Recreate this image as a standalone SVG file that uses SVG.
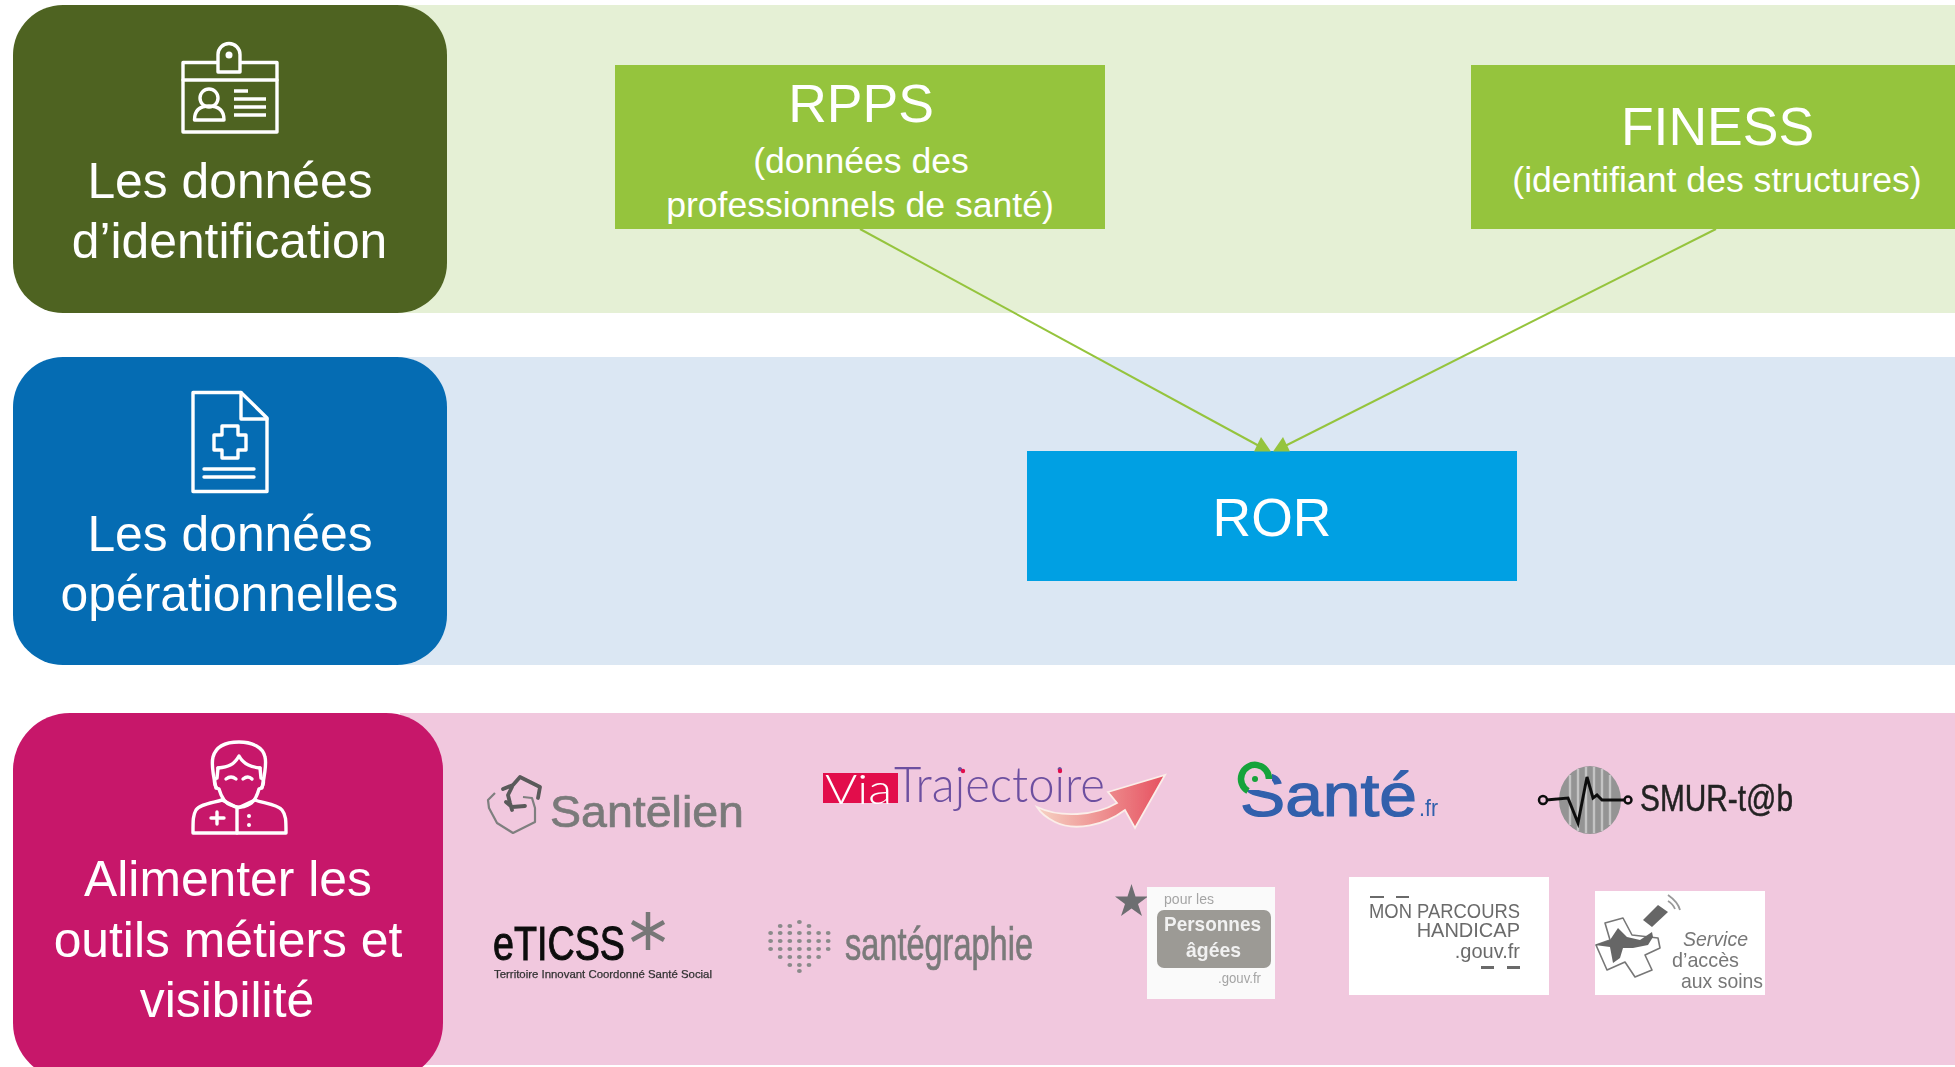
<svg xmlns="http://www.w3.org/2000/svg" width="1955" height="1067" viewBox="0 0 1955 1067">
<style>
text{font-family:"Liberation Sans",Arial,sans-serif}
.h{font-size:49.800px;fill:#fff;text-anchor:middle}
.b{fill:#fff;text-anchor:middle}
.big{font-size:53.500px}
.sm{font-size:35.600px}
.ic{fill:none;stroke:#fff;stroke-width:3.400;stroke-linejoin:round;stroke-linecap:round}
.lnk{fill:none;stroke:#95c43d;stroke-width:2}
.ah{fill:#95c43d}
.g{fill:#7a7a7a;stroke:#7a7a7a;stroke-width:.7}
.log{filter:url(#soft)}
.light{font-family:Lato,"Open Sans",sans-serif;font-weight:300}
</style>
<defs>
<filter id="soft" x="-5%" y="-5%" width="110%" height="110%"><feGaussianBlur stdDeviation="0.6"/></filter>
<linearGradient id="arr" x1="0" y1="0" x2="1" y2="0"><stop offset="0" stop-color="#f6d3c4"/><stop offset="1" stop-color="#e6505f"/></linearGradient>
</defs>
<rect width="1955" height="1067" fill="#fff"/>
<g id="bands">
<rect x="400" y="5" width="1555" height="308" fill="#e5f0d5"/>
<rect x="400" y="357" width="1555" height="308" fill="#dbe7f3"/>
<rect x="400" y="713" width="1555" height="352" fill="#f1c8de"/>
</g>
<g id="n-identification">
<rect x="13" y="5" width="434" height="308" rx="50" fill="#4e6321"/>
<g class="ic">
<rect x="183" y="62.500" width="94" height="69.500"/>
<path d="M183 80H277"/>
<path d="M218 72V54.500A11 11 0 0 1 240 54.500V72Z" fill="#4e6321"/>
<path d="M194.500 120C194.500 109 201 106 209 106C217 106 224 109 224 120Z"/>
<circle cx="209" cy="98" r="9"/>
<path d="M234 91H248M234 99H266M234 107H266M234 115H266" stroke-linecap="butt"/>
</g>
<circle cx="229" cy="55" r="3.500" fill="#fff"/>
<text class="h" x="230" y="198">Les données</text>
<text class="h" x="229.500" y="258">d’identification</text>
</g>
<g id="n-operationnelles">
<rect x="13" y="357" width="434" height="308" rx="50" fill="#056cb3"/>
<g class="ic">
<path d="M193 392.500H241L267 418V491.500H193Z"/>
<path d="M241 392.500V419H267"/>
<path d="M222 426H238V435H246V450H238V458H222V450H214V435H222Z"/>
<path d="M204 469H254M204 477H254"/>
</g>
<text class="h" x="230" y="551">Les données</text>
<text class="h" x="229.500" y="611">opérationnelles</text>
</g>
<g id="n-outils">
<rect x="13" y="713" width="430" height="367" rx="57" fill="#c7176a"/>
<g class="ic">
<path d="M216 788C213 775 211 765 213 757C216 746 226 742 239 742C252 742 263 747 265 757C267 765 264 778 262 788"/>
<path d="M218 768C228 767 234 765 239 756C244 765 252 767 260 768"/>
<path d="M218 768L217 778C213 778 214 788 219 789C221 796 224 803 231 805C236 808 243 808 248 805C254 803 257 796 259 789C264 788 265 778 261 778L260 768"/>
<path d="M226 779Q231 775 236 779M243 779Q248 775 252 779"/>
<path d="M222 800C212 803 200 804 196 810C193 815 193 820 193 833H286C286 820 286 815 282 810C277 804 262 803 255 800"/>
<path d="M222 800L238 808L255 800M237 808V833"/>
<path d="M217 812V824M211 818H224"/>
</g>
<circle cx="249" cy="816" r="2" fill="#fff"/><circle cx="249" cy="825" r="2" fill="#fff"/>
<text class="h" x="228" y="896">Alimenter les</text>
<text class="h" x="228" y="957">outils métiers et</text>
<text class="h" x="227" y="1017">visibilité</text>
</g>
<g id="connectors">
<path class="lnk" d="M860 229L1261 447"/>
<path class="lnk" d="M1716 229L1283 447"/>
</g>
<g id="n-rpps">
<rect x="615" y="65" width="490" height="164" fill="#95c43d"/>
<text class="b big" x="861" y="122">RPPS</text>
<text class="b sm" x="861" y="172.500">(données des</text>
<text class="b sm" x="860" y="217">professionnels de santé)</text>
</g>
<g id="n-finess">
<rect x="1471" y="65" width="484" height="164" fill="#95c43d"/>
<text class="b big" x="1717.500" y="145">FINESS</text>
<text class="b sm" x="1717" y="191.500">(identifiant des structures)</text>
</g>
<g id="n-ror">
<rect x="1027" y="451" width="490" height="130" fill="#00a0e3"/>
<text class="b big" x="1272" y="536">ROR</text>
</g>
<g id="arrowheads">
<path class="ah" d="M1261 437L1271 451.500H1254Z"/>
<path class="ah" d="M1283 437L1290 451.500H1273Z"/>
</g>
<g id="n-santelien" class="log">
<path d="M495 793L488 800L489 808L497 823L513 833L523 828L535 822L535 808L532 798L523 797" fill="none" stroke="#7f7f7f" stroke-width="2.200" stroke-linejoin="round"/>
<path d="M503 789L513 785L520 777L530 782L540 787L538 798M512 787L508 795L510 803L512 810M506 802L512 807L525 806" fill="none" stroke="#5a5a5a" stroke-width="3.800" stroke-linejoin="round" stroke-linecap="round"/>
<text x="550" y="827" font-size="44" class="g" textLength="194" lengthAdjust="spacingAndGlyphs">Santēlien</text>
</g>
<g id="n-viatrajectoire" class="log">
<rect x="823" y="773" width="75" height="30" fill="#e20e4b"/>
<text class="light" x="825" y="804" font-size="42" fill="#fff" textLength="67" lengthAdjust="spacingAndGlyphs">Via</text>
<text class="light" x="894" y="802" font-size="49" fill="#6d50a0" textLength="211" lengthAdjust="spacingAndGlyphs">Trajectoire</text>
<circle cx="963" cy="771" r="2.200" fill="#e20e4b"/><circle cx="1060" cy="771" r="2.200" fill="#e20e4b"/>
<path d="M1108 792L1165 775L1135 828L1125 810C1105 825 1075 832 1055 822C1047 818 1040 812 1037 807C1060 818 1095 816 1117 803Z" fill="url(#arr)" stroke="#fbeee9" stroke-width="1.800"/>
</g>
<g id="n-sante" class="log">
<text x="1240" y="816" font-size="62" fill="#3160ac" stroke="#3160ac" stroke-width="1.200" textLength="177" lengthAdjust="spacingAndGlyphs">Santé</text>
<rect x="1236" y="762" width="36" height="28" fill="#f1c8de"/>
<path d="M1269 779A14 14 0 1 0 1248 791" fill="none" stroke="#16a33a" stroke-width="6.500"/>
<circle cx="1255" cy="779" r="3" fill="#16a33a"/>
<text x="1419" y="816" font-size="24" fill="#3160ac" textLength="19" lengthAdjust="spacingAndGlyphs">.fr</text>
</g>
<g id="n-smur" class="log">
<ellipse cx="1590" cy="800" rx="31" ry="34" fill="#949494"/>
<path d="M1570 775V825M1578 769V831M1586 767V833M1594 767V833M1602 769V831M1610 775V825" stroke="#c4c4c4" stroke-width="2.400" fill="none"/>
<path d="M1546 800L1568 798L1578 823L1587 777L1593 798L1597 795L1602 800H1625" fill="none" stroke="#111" stroke-width="3"/>
<circle cx="1543" cy="800" r="4" fill="none" stroke="#111" stroke-width="2.500"/>
<circle cx="1628" cy="800" r="3.500" fill="none" stroke="#111" stroke-width="2.500"/>
<text x="1640" y="811" font-size="36" fill="#222" stroke="#222" stroke-width=".5" textLength="153" lengthAdjust="spacingAndGlyphs">SMUR-t@b</text>
</g>
<g id="n-eticss" class="log">
<text x="493" y="960" font-size="48" fill="#111" stroke="#111" stroke-width="1" textLength="132" lengthAdjust="spacingAndGlyphs">eTICSS</text>
<path d="M648 912V950M632 922L664 940M664 922L632 940" stroke="#777" stroke-width="4.500" fill="none"/>
<text x="494" y="978" font-size="11" fill="#333" stroke="#333" stroke-width=".25" textLength="218" lengthAdjust="spacingAndGlyphs">Territoire Innovant Coordonné Santé Social</text>
</g>
<g id="n-santegraphie" class="log">
<g fill="#8a8a8a" transform="translate(-159.400,0) scale(1.200,1)">
<circle cx="775" cy="933" r="2"/><circle cx="775" cy="941" r="2"/><circle cx="775" cy="949" r="2"/>
<circle cx="783" cy="926" r="2"/><circle cx="783" cy="933" r="2"/><circle cx="783" cy="941" r="2"/><circle cx="783" cy="949" r="2"/><circle cx="783" cy="957" r="2"/>
<circle cx="791" cy="926" r="2"/><circle cx="791" cy="933" r="2"/><circle cx="791" cy="941" r="2"/><circle cx="791" cy="949" r="2"/><circle cx="791" cy="957" r="2"/><circle cx="791" cy="965" r="2"/>
<circle cx="799" cy="922" r="2"/><circle cx="799" cy="933" r="2"/><circle cx="799" cy="941" r="2"/><circle cx="799" cy="949" r="2"/><circle cx="799" cy="957" r="2"/><circle cx="799" cy="965" r="2"/><circle cx="799" cy="971" r="2"/>
<circle cx="807" cy="926" r="2"/><circle cx="807" cy="933" r="2"/><circle cx="807" cy="941" r="2"/><circle cx="807" cy="949" r="2"/><circle cx="807" cy="957" r="2"/><circle cx="807" cy="965" r="2"/>
<circle cx="815" cy="933" r="2"/><circle cx="815" cy="941" r="2"/><circle cx="815" cy="949" r="2"/><circle cx="815" cy="957" r="2"/>
<circle cx="823" cy="933" r="2"/><circle cx="823" cy="941" r="2"/><circle cx="823" cy="949" r="2"/>
</g>
<text x="845" y="960" font-size="46" class="g" textLength="188" lengthAdjust="spacingAndGlyphs">santégraphie</text>
</g>
<g id="n-personnes">
<path d="M1131.500 884L1135.500 896.500H1148L1138 904L1142 916L1131.500 908.500L1121 916L1125 904L1115 896.500H1127.500Z" fill="#6d6e71"/>
<g class="log">
<rect x="1147" y="887" width="128" height="112" fill="#fafafa"/>
<rect x="1157" y="910" width="114" height="58" rx="7" fill="#9c9a95"/>
<text x="1164" y="904" font-size="15" fill="#a5a5a5" textLength="50" lengthAdjust="spacingAndGlyphs">pour les</text>
<text x="1164" y="931" font-size="21" fill="#f1f1f1" font-weight="bold" textLength="97" lengthAdjust="spacingAndGlyphs">Personnes</text>
<text x="1186" y="957" font-size="21" fill="#f1f1f1" font-weight="bold" textLength="55" lengthAdjust="spacingAndGlyphs">âgées</text>
<text x="1218" y="983" font-size="15" fill="#a5a5a5" textLength="43" lengthAdjust="spacingAndGlyphs">.gouv.fr</text>
</g>
</g>
<g id="n-handicap">
<rect x="1349" y="877" width="200" height="118" fill="#fff"/>
<g class="log" fill="#6b6b6b">
<rect x="1370" y="896" width="14" height="2"/><rect x="1396" y="896" width="13" height="2"/>
<rect x="1481" y="966" width="13" height="3"/><rect x="1507" y="966" width="13" height="3"/>
<text x="1369" y="918" font-size="20" textLength="151" lengthAdjust="spacingAndGlyphs">MON PARCOURS</text>
<text x="1520" y="937" font-size="20" text-anchor="end">HANDICAP</text>
<text x="1520" y="958" font-size="20" text-anchor="end">.gouv.fr</text>
</g>
</g>
<g id="n-acces">
<rect x="1595" y="891" width="170" height="104" fill="#fff"/>
<g class="log">
<path d="M1605 923L1623 918L1632 935L1658 938L1660 948L1645 955L1652 970L1635 977L1625 962L1607 970L1596 945L1610 940Z" fill="#fff" stroke="#777" stroke-width="1.600" stroke-linejoin="round"/>
<path d="M1595 945L1610 940L1618 928L1627 937L1640 940L1652 932L1653 937L1648 945L1633 948L1623 948L1620 958L1613 963L1610 947Z" fill="#666"/>
<path d="M1643 920L1658 905L1668 912L1652 927Z" fill="#666"/>
<path d="M1668 895Q1678 902 1680 910M1668 901Q1673 904 1675 909" fill="none" stroke="#999" stroke-width="1.800"/>
<g fill="#777" font-size="21">
<text x="1683" y="946" textLength="65" lengthAdjust="spacingAndGlyphs" font-style="italic">Service</text>
<text x="1672" y="967" textLength="67" lengthAdjust="spacingAndGlyphs">d’accès</text>
<text x="1681" y="988" textLength="82" lengthAdjust="spacingAndGlyphs">aux soins</text>
</g>
</g>
</g>
</svg>
